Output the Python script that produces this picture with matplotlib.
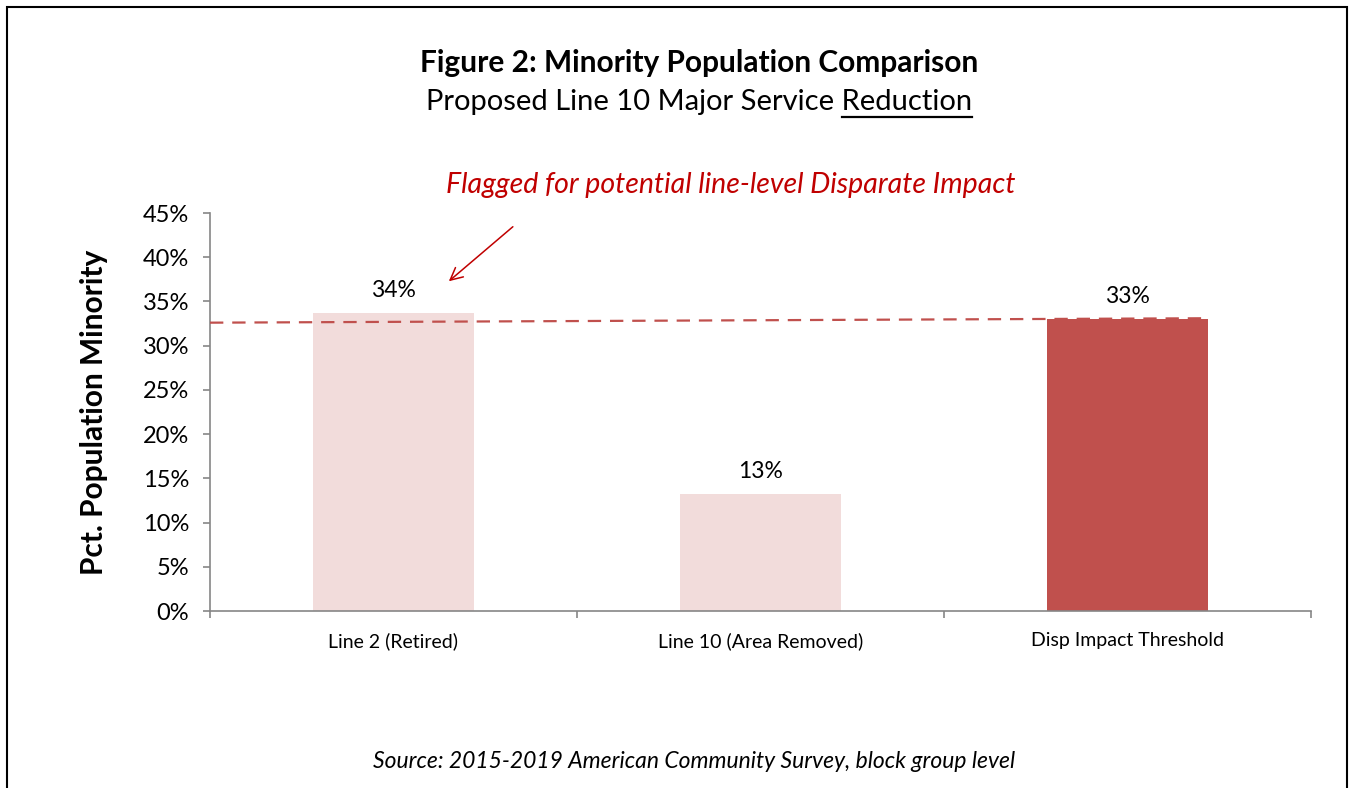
import matplotlib.pyplot as plt
from matplotlib.patches import Rectangle
from matplotlib.lines import Line2D

plt.rcParams['font.family'] = ['Lato', 'DejaVu Sans']

categories = ["Line 2 (Retired)", "Line 10 (Area Removed)", "Disp Impact Threshold"]
pct_minority = [33.7, 13.2, 33.0]
bar_labels = ["34%", "13%", "33%"]
bar_colors = ["#F2DCDB", "#F2DCDB", "#C0504D"]
yticks = [0, 5, 10, 15, 20, 25, 30, 35, 40, 45]
# hand-drawn threshold line (left end, right end) in %
thresh_line = [32.6, 33.1]

fig = plt.figure(figsize=(13.51, 7.88), dpi=100)
ax = fig.add_axes([210/1351, 1-611/788, 1101/1351, 398/788])

x = range(len(categories))
ax.bar(x, pct_minority, width=0.436, color=bar_colors, zorder=2)
for i, v in enumerate(pct_minority):
    ax.text(i, v + 1.4, bar_labels[i], ha='center', va='bottom', fontsize=16.5)

# dashed threshold line
ax.plot([-0.5, 2.218], thresh_line, color="#C0504D", lw=1.6, ls=(0, (6, 4)), zorder=3)

ax.set_xlim(-0.5, 2.5)
ax.set_ylim(0, 45)
ax.set_yticks(yticks)
ax.set_yticklabels([f"{t}%" for t in yticks], fontsize=17)
ax.set_xticks([-0.5, 0.5, 1.5, 2.5])
ax.set_xticklabels([])
ax.set_xticks(list(x), minor=True)
ax.set_xticklabels(categories, minor=True, fontsize=14)
ax.tick_params(axis='x', which='minor', length=0, pad=15)
ax.tick_params(axis='x', which='major', length=5, color='#868686', width=1.2)
ax.tick_params(axis='y', length=5, color='#868686', width=1.2, pad=10)
for s in ['top', 'right']:
    ax.spines[s].set_visible(False)
for s in ['left', 'bottom']:
    ax.spines[s].set_color('#868686')
    ax.spines[s].set_linewidth(1.2)

ax.set_ylabel("Pct. Population Minority", fontsize=21.5, fontweight='bold')
ax.yaxis.set_label_coords((108 - 210)/1101, 0.5)

# annotation with arrow
ax.text(0.473, 1.07, "Flagged for potential line-level Disparate Impact", transform=ax.transAxes,
        ha='center', va='center', fontsize=20.5, style='italic', color='#C00000')
ax.annotate("", xy=(0.215, 0.824), xytext=(0.277, 0.970), xycoords='axes fraction',
            textcoords='axes fraction',
            arrowprops=dict(arrowstyle='->', color='#C00000', lw=1.1, mutation_scale=22))

# titles
fig.text(699/1351, 1-63/788, "Figure 2: Minority Population Comparison", ha='center', va='center',
         fontsize=21.5, fontweight='bold')
sub = fig.text(699/1351, 1-102/788, "Proposed Line 10 Major Service Reduction", ha='center', va='center',
               fontsize=21)
fig.text(694/1351, 1-762/788, "Source: 2015-2019 American Community Survey, block group level",
         ha='center', va='center', fontsize=16.5, style='italic')

# underline "Reduction"
fig.canvas.draw()
r = fig.canvas.get_renderer()
bb = sub.get_window_extent(r)
tmp = fig.text(0, 0, "Reduction", fontsize=21)
w = tmp.get_window_extent(r).width
tmp.remove()
W, H = fig.bbox.width, fig.bbox.height
fig.add_artist(Line2D([(bb.x1 - w)/W, bb.x1/W], [1-117/788, 1-117/788], color='black', lw=1.6))

# outer border
fig.add_artist(Rectangle((7/1351, -0.05), 1340/1351, 1.05 - 7/788, fill=False,
                         edgecolor='black', lw=1.5, transform=fig.transFigure))

fig.savefig("out.png", dpi=100)
